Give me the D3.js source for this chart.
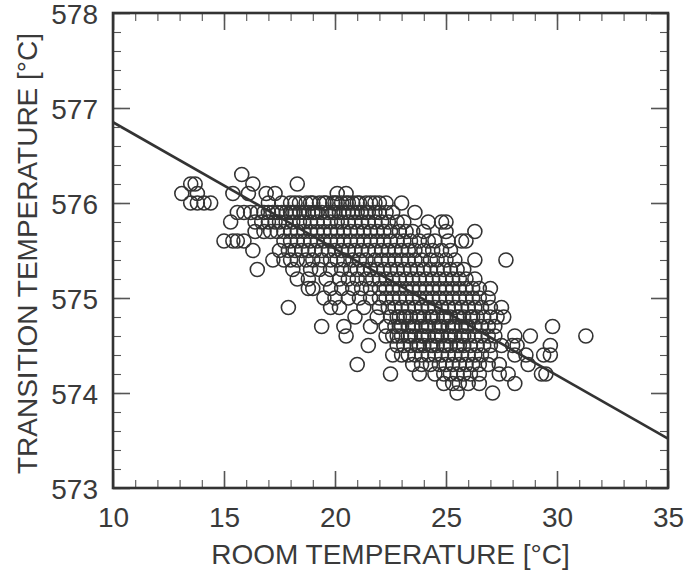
<!DOCTYPE html>
<html>
<head>
<meta charset="utf-8">
<script src="https://cdn.jsdelivr.net/npm/d3@7"></script>
<style>
  html, body { margin: 0; padding: 0; background: #fff; }
  svg { display: block; }
  text { font-family: "Liberation Sans", Arial, Helvetica, sans-serif; fill: #3a3a3a; }
</style>
</head>
<body>
<svg id="chart" width="697" height="571"></svg>
<script>
// ---- DATA ----
const xTickValues = [10, 15, 20, 25, 30, 35];
const yTickValues = [573, 574, 575, 576, 577, 578];
const xLabel = "ROOM TEMPERATURE [°C]";
const yLabel = "TRANSITION TEMPERATURE [°C]";

// Regression line end points
const fitRoomTemp = [10, 35];
const fitTransitionTemp = [576.85, 573.52];

// Transition temperature rows and the room temperatures observed in each row
const rowTransitionTemp = [576.3, 576.2, 576.1, 576.0, 575.9, 575.8, 575.7, 575.6, 575.5, 575.4,
  575.3, 575.2, 575.1, 575.0, 574.9, 574.8, 574.7, 574.6, 574.5, 574.4, 574.3, 574.2, 574.1, 574.0];
const rowRoomTemps = [
  [15.8],
  [13.5, 13.7, 16.3, 18.3],
  [13.1, 13.8, 15.4, 16.1, 16.9, 17.3, 20.1, 20.5],
  [13.5, 13.8, 14.1, 14.4, 17.0, 17.6, 18.0, 18.2, 18.4, 18.7, 18.9, 19.0, 19.3, 19.5, 19.6, 19.9, 20.0, 20.1, 20.3, 20.5, 20.6, 20.8, 21.0, 21.1, 21.4, 21.6, 21.8, 22.0, 22.3, 23.0],
  [15.6, 15.9, 16.2, 16.5, 16.8, 17.0, 17.2, 17.4, 17.6, 17.8, 18.0, 18.1, 18.2, 18.4, 18.6, 18.8, 19.0, 19.1, 19.2, 19.4, 19.7, 19.9, 20.0, 20.2, 20.4, 20.6, 20.8, 21.0, 21.2, 21.4, 21.5, 21.8, 22.0, 22.3, 22.6, 23.6],
  [15.3, 16.4, 16.7, 17.0, 17.3, 17.5, 17.8, 18.1, 18.4, 18.6, 18.9, 19.2, 19.5, 19.8, 20.1, 20.3, 20.6, 20.9, 21.2, 21.5, 21.8, 22.1, 22.4, 22.8, 23.1, 24.2, 24.8, 25.0],
  [16.4, 16.8, 17.1, 17.4, 17.7, 18.0, 18.3, 18.6, 18.9, 19.2, 19.5, 19.8, 20.1, 20.4, 20.7, 21.0, 21.3, 21.6, 21.9, 22.2, 22.5, 22.9, 23.2, 23.5, 24.0, 25.0, 26.3],
  [15.0, 15.4, 15.6, 15.9, 17.7, 18.0, 18.3, 18.6, 18.9, 19.2, 19.5, 19.8, 20.1, 20.4, 20.7, 21.0, 21.3, 21.6, 21.9, 22.2, 22.5, 22.8, 23.1, 23.4, 23.8, 24.2, 24.5, 25.1, 25.7, 25.9],
  [16.3, 17.5, 17.9, 18.2, 18.5, 18.8, 19.1, 19.4, 19.7, 20.0, 20.3, 20.6, 20.9, 21.2, 21.5, 21.8, 22.1, 22.4, 22.7, 23.0, 23.3, 23.6, 24.0, 24.4, 24.8, 25.2],
  [17.2, 17.7, 18.0, 18.3, 18.7, 19.0, 19.4, 19.8, 20.1, 20.4, 20.8, 21.1, 21.4, 21.8, 22.1, 22.4, 22.7, 23.0, 23.3, 23.6, 23.9, 24.3, 24.6, 25.0, 25.4, 26.3, 27.7],
  [16.5, 18.1, 18.9, 19.3, 19.8, 20.3, 20.7, 21.0, 21.3, 21.6, 21.9, 22.2, 22.5, 22.8, 23.1, 23.4, 23.7, 24.0, 24.3, 24.6, 24.9, 25.2, 25.5, 25.8],
  [18.3, 18.8, 19.6, 20.2, 20.6, 21.0, 21.4, 21.7, 22.0, 22.3, 22.6, 22.9, 23.2, 23.5, 23.8, 24.1, 24.4, 24.7, 25.0, 25.3, 25.6, 25.9, 26.3],
  [18.8, 19.0, 19.8, 20.3, 20.8, 21.2, 21.6, 22.0, 22.3, 22.6, 22.9, 23.2, 23.5, 23.8, 24.1, 24.4, 24.7, 25.0, 25.3, 25.6, 25.9, 26.2, 26.5, 27.0],
  [19.5, 20.0, 20.6, 21.1, 21.6, 22.0, 22.3, 22.6, 22.9, 23.2, 23.5, 23.8, 24.1, 24.4, 24.7, 25.0, 25.3, 25.6, 25.9, 26.2, 26.5, 26.9],
  [17.9, 19.8, 20.2, 21.3, 22.0, 22.4, 22.7, 23.0, 23.3, 23.6, 23.9, 24.2, 24.5, 24.8, 25.1, 25.4, 25.7, 26.0, 26.3, 26.6, 27.0, 27.5],
  [20.9, 21.9, 22.5, 22.8, 22.9, 23.1, 23.2, 23.4, 23.7, 23.8, 24.0, 24.3, 24.4, 24.6, 24.9, 25.0, 25.2, 25.5, 25.6, 25.8, 26.1, 26.2, 26.4, 26.7, 27.0, 27.3, 27.6],
  [19.4, 20.4, 21.6, 22.3, 22.7, 22.9, 23.0, 23.3, 23.5, 23.6, 23.9, 24.1, 24.2, 24.5, 24.7, 24.8, 25.1, 25.3, 25.4, 25.7, 25.9, 26.0, 26.3, 26.6, 26.9, 27.2, 29.8],
  [20.5, 22.3, 22.6, 22.8, 23.0, 23.3, 23.4, 23.6, 23.9, 24.0, 24.2, 24.5, 24.6, 24.8, 25.1, 25.2, 25.4, 25.7, 25.8, 26.0, 26.3, 26.6, 26.9, 27.2, 28.1, 28.8, 31.3],
  [21.5, 22.8, 23.1, 23.4, 23.7, 23.8, 24.0, 24.3, 24.4, 24.6, 24.9, 25.0, 25.2, 25.5, 25.6, 25.8, 26.1, 26.4, 26.7, 27.0, 27.5, 28.0, 28.2, 29.7],
  [22.6, 23.0, 23.3, 23.6, 23.9, 24.2, 24.5, 24.8, 25.1, 25.4, 25.7, 26.0, 26.3, 26.6, 27.0, 28.1, 28.6, 29.4, 29.7],
  [21.0, 23.5, 23.9, 24.3, 24.7, 25.0, 25.3, 25.6, 25.9, 26.2, 26.5, 26.9, 27.4, 28.7],
  [22.5, 23.8, 24.5, 24.9, 25.2, 25.5, 25.8, 26.1, 26.5, 27.4, 27.8, 29.3, 29.5],
  [24.9, 25.3, 25.6, 26.0, 26.5, 28.1],
  [25.5, 27.1]
];

// ---- CHART ----
const svg = d3.select("#chart");
const M = { left: 113, right: 668, top: 13, bottom: 488 };
const ink = "#333";

const x = d3.scaleLinear().domain([10, 35]).range([M.left, M.right]);
const y = d3.scaleLinear().domain([573, 578]).range([M.bottom, M.top]);

const points = [];
rowTransitionTemp.forEach((t, i) => rowRoomTemps[i].forEach(r => points.push({ r, t })));

// Scatter
svg.append("g")
  .selectAll("circle")
  .data(points)
  .join("circle")
  .attr("cx", d => x(d.r))
  .attr("cy", d => y(d.t))
  .attr("r", 7)
  .attr("fill", "none")
  .attr("stroke", ink)
  .attr("stroke-width", 1.6);

// Fit line
svg.append("line")
  .attr("x1", x(fitRoomTemp[0])).attr("y1", y(fitTransitionTemp[0]))
  .attr("x2", x(fitRoomTemp[1])).attr("y2", y(fitTransitionTemp[1]))
  .attr("stroke", ink).attr("stroke-width", 2.6);

// Axes (ticks inward on all four sides)
const xMinor = d3.range(10, 35.01, 1);
const yMinor = d3.range(573, 578.001, 0.2);

function styleAxis(g, w) {
  g.select(".domain").remove();
  g.selectAll(".tick line").attr("stroke", "#555").attr("stroke-width", w);
}

svg.append("g").attr("transform", `translate(0,${M.bottom})`)
  .call(d3.axisBottom(x).tickValues(xMinor).tickSize(-8).tickFormat(""))
  .call(g => styleAxis(g, 1.1));
svg.append("g").attr("transform", `translate(0,${M.top})`)
  .call(d3.axisTop(x).tickValues(xMinor).tickSize(-8).tickFormat(""))
  .call(g => styleAxis(g, 1.1));
svg.append("g").attr("transform", `translate(${M.left},0)`)
  .call(d3.axisLeft(y).tickValues(yMinor).tickSize(-8).tickFormat(""))
  .call(g => styleAxis(g, 1.1));
svg.append("g").attr("transform", `translate(${M.right},0)`)
  .call(d3.axisRight(y).tickValues(yMinor).tickSize(-8).tickFormat(""))
  .call(g => styleAxis(g, 1.1));

const xAxisG = svg.append("g").attr("transform", `translate(0,${M.bottom})`)
  .call(d3.axisBottom(x).tickValues(xTickValues).tickSize(-17).tickPadding(0).tickFormat(d3.format("d")))
  .call(g => styleAxis(g, 1.6));
xAxisG.selectAll(".tick text").attr("y", 39).attr("dy", 0).attr("font-size", 28).attr("fill", "#3a3a3a");

svg.append("g").attr("transform", `translate(0,${M.top})`)
  .call(d3.axisTop(x).tickValues(xTickValues).tickSize(-17).tickFormat(""))
  .call(g => styleAxis(g, 1.6));

const yAxisG = svg.append("g").attr("transform", `translate(${M.left},0)`)
  .call(d3.axisLeft(y).tickValues(yTickValues).tickSize(-17).tickFormat(d3.format("d")))
  .call(g => styleAxis(g, 1.6));
yAxisG.selectAll(".tick text").attr("x", -15).attr("dy", "0.36em").attr("font-size", 28).attr("fill", "#3a3a3a");

svg.append("g").attr("transform", `translate(${M.right},0)`)
  .call(d3.axisRight(y).tickValues(yTickValues).tickSize(-17).tickFormat(""))
  .call(g => styleAxis(g, 1.6));

// Frame
svg.append("rect")
  .attr("x", M.left).attr("y", M.top)
  .attr("width", M.right - M.left).attr("height", M.bottom - M.top)
  .attr("fill", "none").attr("stroke", ink).attr("stroke-width", 2.6);

// Axis titles
svg.append("text")
  .attr("x", (M.left + M.right) / 2).attr("y", 564)
  .attr("text-anchor", "middle").attr("font-size", 28).attr("fill", "#444")
  .text(xLabel);

svg.append("text")
  .attr("transform", `translate(37,${(M.top + M.bottom) / 2 + 3}) rotate(-90)`)
  .attr("text-anchor", "middle").attr("font-size", 28).attr("fill", "#444")
  .text(yLabel);
</script>
</body>
</html>
